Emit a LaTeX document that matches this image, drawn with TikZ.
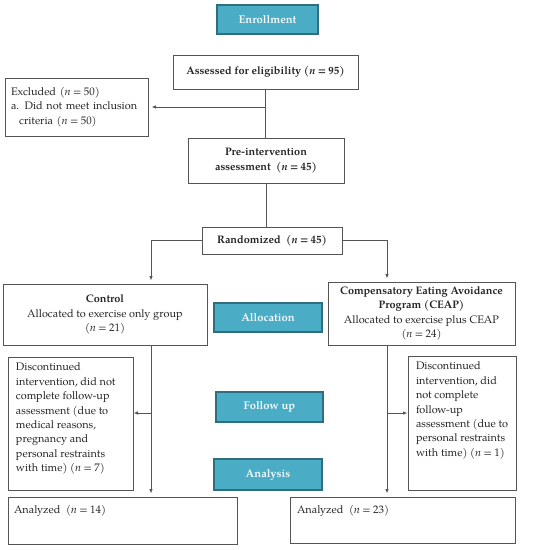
\documentclass[tikz,border=0pt]{standalone}
\usepackage{fontspec}
\setmainfont{texgyrepagella}[Extension=.otf,UprightFont=*-regular,BoldFont=*-bold,ItalicFont=*-italic,BoldItalicFont=*-bolditalic]
\usetikzlibrary{arrows.meta}
\definecolor{tealfill}{HTML}{4BACC6}
\definecolor{tealedge}{HTML}{2F6E7E}
\definecolor{boxedge}{HTML}{555555}
\definecolor{txt}{HTML}{262626}
\newcommand{\nn}{\textit{n}}
\newcommand{\eq}{\hspace{0.22em}=\hspace{0.22em}}
\begin{document}
\begin{tikzpicture}[x=1pt,y=-1pt,
  every node/.style={font=\fontsize{10.9}{14.4}\selectfont, text=txt},
  wbox/.style={draw=boxedge, line width=1pt, fill=white, rectangle, inner sep=0pt, align=center},
  bfbox/.style={wbox, font=\fontsize{10.9}{14.4}\selectfont\bfseries},
  stage/.style={draw=tealedge, line width=1.8pt, fill=tealfill, rectangle, inner sep=0pt,
     text=white!92!tealfill, font=\fontsize{11.2}{13}\selectfont\bfseries},
  conn/.style={draw=boxedge, line width=0.9pt},
  arr/.style={conn, -{Latex[length=4.5pt,width=3.6pt]}}]
\useasboundingbox (0,0) rectangle (549,550);
% stage labels
\node[stage, minimum width=101pt, minimum height=29pt] (enr) at (267.5,19.5) {Enrollment};
\node[stage, minimum width=108pt, minimum height=29pt] (alloc) at (268,317.5) {Allocation};
\node[stage, minimum width=107pt, minimum height=30pt] (fu) at (269.5,407) {Follow up};
\node[stage, minimum width=108pt, minimum height=31pt] (ana) at (268,474.5) {Analysis};
% boxes
\node[bfbox, minimum width=185pt, minimum height=34pt] (ass) at (265.5,72) {Assessed for eligibility (\nn{}\eq95)};
\node[wbox, minimum width=143pt, minimum height=58pt, align=left, text width=131pt] (exc) at (76.5,107)
  {Excluded (\nn{}\eq50)\\a. Did not meet inclusion\\\hspace*{0.75em}criteria (\nn{}\eq50)};
\node[bfbox, minimum width=156pt, minimum height=45pt] (pre) at (266,160.5)
  {Pre-intervention\\assessment\ \ (\nn{}\eq45)};
\node[bfbox, minimum width=140pt, minimum height=27pt] (rnd) at (272,240.5)
  {Randomized\ \ (\nn{}\eq45)};
\node[wbox, minimum width=204pt, minimum height=61pt] (ctl) at (105,314.5)
  {\textbf{Control}\\Allocated to exercise only group\\(\nn{}\eq21)};
\node[wbox, minimum width=187pt, minimum height=63pt] (ceap) at (421.5,313.5)
  {\textbf{Compensatory Eating Avoidance}\\\textbf{Program (CEAP)}\\Allocated to exercise plus CEAP\\(\nn{}\eq24)};
\node[wbox, minimum width=125pt, minimum height=133pt, inner xsep=8pt, inner ysep=6pt] (dl) at (70.5,423.5)
  {\parbox[c][121pt][t]{109pt}{\raggedright Discontinued\\intervention, did not\\complete follow-up\\assessment (due to\\medical reasons,\\pregnancy and\\personal restraints\\with time) (\nn{}\eq7)}};
\node[wbox, minimum width=108pt, minimum height=134pt, inner xsep=8pt, inner ysep=6pt] (dr) at (462,423)
  {\parbox[c][122pt][t]{92pt}{\raggedright Discontinued\\intervention, did\\not complete\\follow-up\\assessment (due to\\personal restraints\\with time) (\nn{}\eq1)}};
\node[wbox, minimum width=229pt, minimum height=47pt, inner xsep=6pt, inner ysep=8pt] (al) at (122.5,520.5)
  {\parbox[c][31pt][t]{217pt}{\raggedright Analyzed\ \ (\nn{}\eq14)}};
\node[wbox, minimum width=225pt, minimum height=46pt, inner xsep=7pt, inner ysep=8pt] (ar) at (402.5,520)
  {\parbox[c][30pt][t]{211pt}{\raggedright Analyzed\ \ (\nn{}\eq23)}};
% helper coordinates
\coordinate (xL) at (151,0);
\coordinate (xR) at (387,0);
\coordinate (yF) at (0,413);
% connectors
\draw[conn] (ass.south) -- (ass.south |- pre.north);
\draw[arr, shorten >=3pt] (ass.south |- exc.east) -- (exc.east);
\draw[conn] (pre.south) -- (pre.south |- rnd.north);
\draw[arr, shorten >=3pt] (rnd.west) -| (xL |- ctl.north);
\draw[arr, shorten >=3pt] (rnd.east) -| (xR |- ceap.north);
\draw[arr, shorten >=3pt] (xL |- ctl.south) -- (xL |- al.north);
\draw[arr, shorten >=3pt] (xR |- ceap.south) -- (xR |- ar.north);
\draw[arr] (xL |- yF) -- (dl.east |- yF);
\draw[arr] (xR |- yF) -- (dr.west |- yF);
\end{tikzpicture}
\end{document}
